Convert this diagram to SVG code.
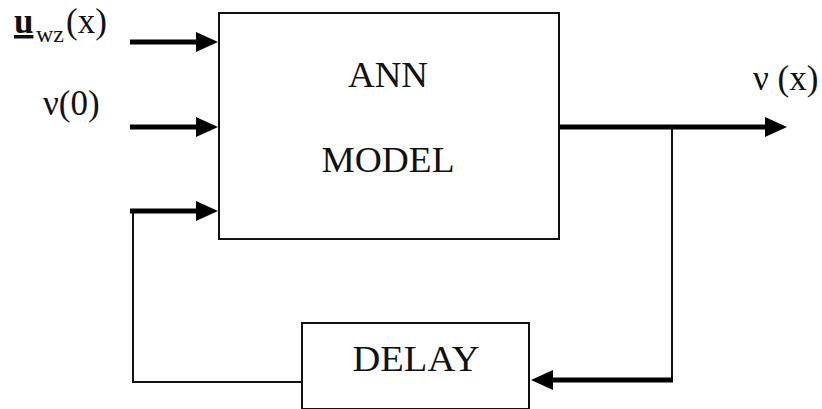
<svg xmlns="http://www.w3.org/2000/svg" width="822" height="409" viewBox="0 0 822 409">
  <style>
    .box { fill: #fff; stroke: #111; stroke-width: 2; }
    .thick { fill: none; stroke: #000; stroke-width: 5; }
    .thin { fill: none; stroke: #111; stroke-width: 2; }
    text { font-family: "Liberation Serif", "Times New Roman", serif; fill: #111; }
    .lbl { font-size: 35px; }
  </style>
  <defs>
    <!-- filled arrowhead; placed just beyond the end of each thick line -->
    <marker id="head" viewBox="0 0 22 20" refX="1" refY="10" markerWidth="22" markerHeight="20" markerUnits="userSpaceOnUse" orient="auto">
      <path d="M0,0 L22,10 L0,20 Z" fill="#000"/>
    </marker>
  </defs>

  <rect width="822" height="409" fill="#fff"/>

  <g id="connectors">
    <!-- inputs -->
    <line class="thick" x1="130" y1="42" x2="197" y2="42" marker-end="url(#head)"/>
    <line class="thick" x1="130" y1="127" x2="197" y2="127" marker-end="url(#head)"/>
    <line class="thick" x1="130" y1="211" x2="197" y2="211" marker-end="url(#head)"/>
    <!-- output -->
    <line class="thick" x1="559" y1="127" x2="766" y2="127" marker-end="url(#head)"/>
    <!-- feedback branch to delay -->
    <polyline class="thin" points="672,127 672,380"/>
    <line class="thick" x1="673" y1="380" x2="552" y2="380" marker-end="url(#head)"/>
    <!-- delay back to input -->
    <polyline class="thin" points="302,382 133,382 133,211"/>
  </g>

  <g id="ann-model">
    <rect class="box" x="219" y="13" width="340" height="226"/>
    <text class="lbl" x="388" y="87" text-anchor="middle" textLength="80" lengthAdjust="spacingAndGlyphs">ANN</text>
    <text class="lbl" x="388" y="172" text-anchor="middle" textLength="133" lengthAdjust="spacingAndGlyphs">MODEL</text>
  </g>

  <g id="delay">
    <rect class="box" x="302" y="323" width="227" height="86"/>
    <text class="lbl" x="416" y="371" text-anchor="middle" textLength="127" lengthAdjust="spacingAndGlyphs">DELAY</text>
  </g>

  <g id="label-u">
    <text class="lbl" x="14" y="33" font-weight="bold" text-decoration="underline">u</text>
    <text x="36" y="42" font-size="24">wz</text>
    <text class="lbl" x="66" y="33">(x)</text>
  </g>

  <g id="label-v0">
    <text class="lbl" x="43" y="115">ν(0)</text>
  </g>

  <g id="label-vx">
    <text class="lbl" x="753" y="90">ν (x)</text>
  </g>
</svg>
